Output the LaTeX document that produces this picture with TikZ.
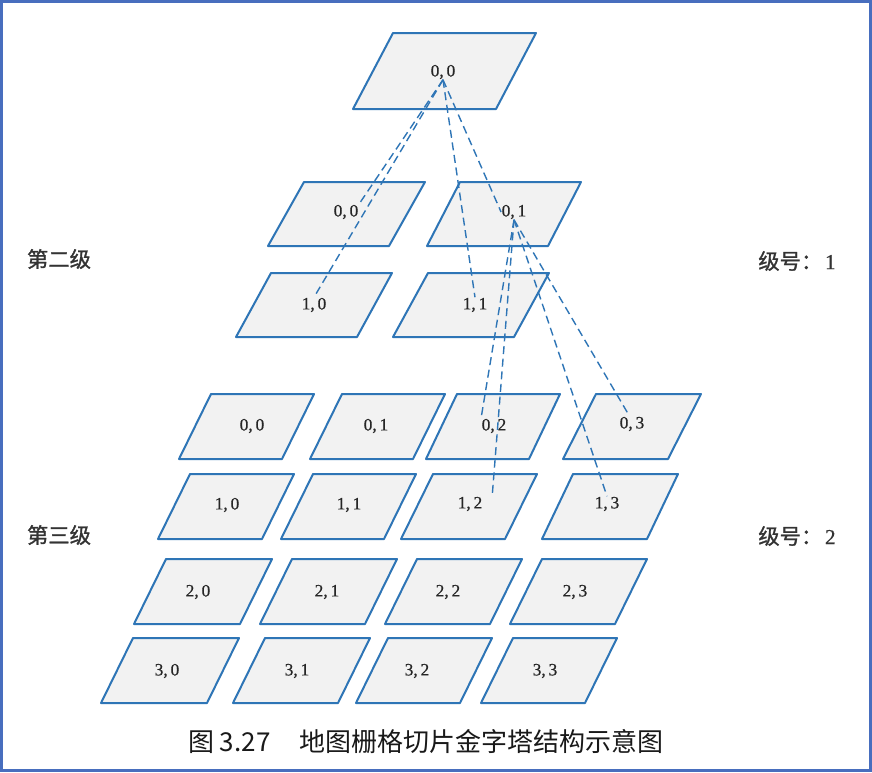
\documentclass[tikz,border=0pt]{standalone}
\usepackage{fontspec}
\setmainfont{Liberation Serif}
\newfontfamily\labfont[FakeBold=0.6]{Liberation Serif}
\newfontfamily\cjk{Noto Sans CJK SC}
\newfontfamily\cjkb[FakeBold=1.2]{Noto Sans CJK SC}
\definecolor{tileblue}{RGB}{46,117,182}
\definecolor{tilefill}{RGB}{242,242,242}
\definecolor{framecol}{RGB}{72,110,190}
\newcommand\tile[5]{\draw[tilestyle] (#1,#2) -- (#1+#5,#2) -- (#3+#5,#4) -- (#3,#4) -- cycle;}
\tikzset{
  tilestyle/.style={draw=tileblue, fill=tilefill, line width=1.5pt, line join=round},
  lab/.style={inner sep=0.3pt, font=\labfont\fontsize{13}{14}\selectfont, text=black!85},
  conn/.style={draw=tileblue, line width=1.05pt, dash pattern=on 6pt off 3.5pt},
  side/.style={inner sep=0pt, font=\cjkb\fontsize{16}{18}\selectfont, text=black!80},
  framestyle/.style={draw=framecol, line width=2.4pt}
}
\begin{document}
\begin{tikzpicture}[x=0.75pt,y=-0.75pt]
\useasboundingbox (0,0) rectangle (872,772);
\fill[white] (0,0) rectangle (872,772);
\draw[framestyle] (1.6,1.6) rectangle (870.4,770.4);

% level 0
\tile{353}{109}{393}{33}{143}
% level 1
\tile{268}{246}{304}{182}{121}
\tile{427}{246}{460}{182}{121}
\tile{236}{337}{271}{273}{121}
\tile{393}{337}{428}{273}{121}
% level 2 row 0
\tile{179}{459}{211}{394}{103}
\tile{310}{459}{342}{394}{103}
\tile{426}{459}{457}{394}{103}
\tile{563}{459}{596}{394}{105}
% row 1
\tile{158}{539}{190}{474}{104}
\tile{281}{539}{313}{474}{103}
\tile{401}{539}{433}{474}{104}
\tile{542}{539}{573}{474}{105}
% row 2
\tile{134}{624}{166}{559}{106}
\tile{260}{624}{292}{559}{105}
\tile{385}{624}{417}{559}{105}
\tile{510}{624}{542}{559}{105}
% row 3
\tile{101}{703}{133}{638}{106}
\tile{233}{703}{265}{638}{105}
\tile{356}{703}{388}{638}{104}
\tile{481}{703}{513}{638}{104}

% labels
\node[lab] (t) at (443,72) {0,\,0};
\node[lab] (a00) at (346,212) {0,\,0};
\node[lab] (a01) at (514,212) {0,\,1};
\node[lab] (a10) at (314,305) {1,\,0};
\node[lab] (a11) at (475,305) {1,\,1};

\node[lab] (c00) at (252,426) {0,\,0};
\node[lab] (c01) at (376,426) {0,\,1};
\node[lab] (c02) at (494,426) {0,\,2};
\node[lab] (c03) at (632,424) {0,\,3};
\node[lab] (c10) at (227,505) {1,\,0};
\node[lab] (c11) at (349,505) {1,\,1};
\node[lab] (c12) at (470,504) {1,\,2};
\node[lab] (c13) at (607,504) {1,\,3};
\node[lab] (c20) at (198,592) {2,\,0};
\node[lab] (c21) at (327,592) {2,\,1};
\node[lab] (c22) at (448,592) {2,\,2};
\node[lab] (c23) at (575,592) {2,\,3};
\node[lab] (c30) at (167,671) {3,\,0};
\node[lab] (c31) at (297,671) {3,\,1};
\node[lab] (c32) at (417,671) {3,\,2};
\node[lab] (c33) at (545,671) {3,\,3};

% connectors
\draw[conn] (t.south) -- (a00.north east);
\draw[conn] (t.south) -- (a10.north);
\draw[conn] (t.south) -- (a01.west);
\draw[conn] (t.south) -- (a11.north);
\draw[conn] (a01.south) -- (c02.north west);
\draw[conn] (a01.south) -- ([xshift=7pt,yshift=1pt]c12.north east);
\draw[conn] (a01.south) -- ([xshift=-3pt,yshift=2pt]c03.north);
\draw[conn] (a01.south) -- (c13.north);

% side labels
\node[side] (s1) at (59,259) {第二级};
\node[side] (s2) at (797,261) {级号：\hspace{2pt}{\labfont\fontsize{16}{18}\selectfont 1}};
\node[side] (s3) at (59,535) {第三级};
\node[side] (s4) at (797,536) {级号：\hspace{2pt}{\labfont\fontsize{16}{18}\selectfont 2}};

% caption
\node[inner sep=0pt, font=\cjk\fontsize{19.5}{22}\selectfont, text=black!90] (cap) at (426,742) {图 3.27\hspace{22pt}地图栅格切片金字塔结构示意图};
\end{tikzpicture}
\end{document}
